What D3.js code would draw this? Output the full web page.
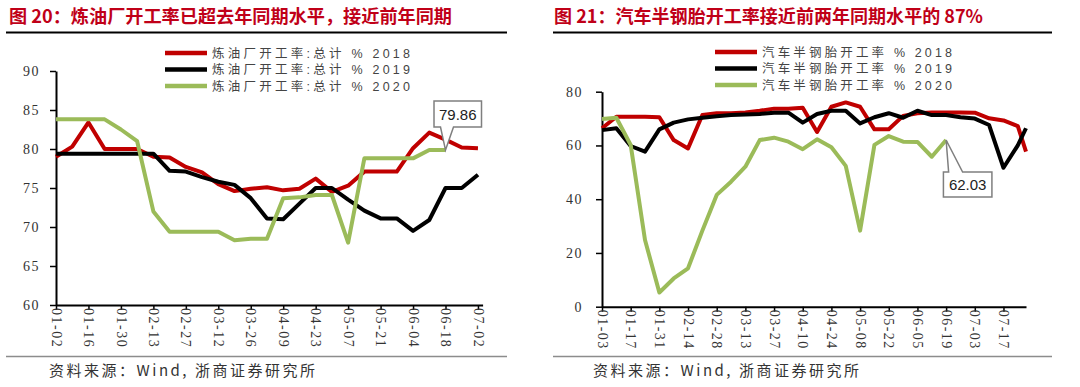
<!DOCTYPE html>
<html>
<head>
<meta charset="utf-8">
<script src="https://cdn.jsdelivr.net/npm/d3@7"></script>
<style>
    body { margin: 0; background: #fff; }
    svg { display: block; }
    .title { font-family: "Noto Sans CJK SC", sans-serif; font-weight: bold; font-size: 18px; fill: #c00018; }
    .source { font-family: "Noto Sans CJK SC", serif; font-size: 15px; fill: #333; }
    .tick text { font-family: "Liberation Serif", "Times New Roman", serif; font-size: 14px; fill: #333; letter-spacing: 1.5px; }
    .legend text { font-family: "Liberation Sans", "Noto Sans CJK SC", sans-serif; font-size: 12.5px; fill: #444; }
    .callout text { font-family: "Liberation Sans", Arial, sans-serif; font-size: 15px; fill: #222; }
</style>
</head>
<body>
<svg id="chart" width="1080" height="387"></svg>
<script>
// ---- left panel: refinery utilisation, weekly ----
let refineryDates = ['01-02', '01-09', '01-16', '01-23', '01-30', '02-06', '02-13', '02-20', '02-27',
    '03-05', '03-12', '03-19', '03-26', '04-02', '04-09', '04-16', '04-23', '04-30', '05-07',
    '05-14', '05-21', '05-28', '06-04', '06-11', '06-18', '06-25', '07-02'];
let refineryTicks = ['01-02', '01-16', '01-30', '02-13', '02-27', '03-12', '03-26', '04-09',
    '04-23', '05-07', '05-21', '06-04', '06-18', '07-02'];
let refinery2018 = [79.0, 80.3, 83.4, 80.0, 80.0, 80.0, 79.0, 78.9, 77.7, 77.0, 75.5, 74.6, 74.9, 75.1,
    74.7, 74.9, 76.2, 74.5, 75.3, 77.1, 77.1, 77.1, 80.1, 82.1, 81.2, 80.2, 80.1];
let refinery2019 = [79.4, 79.4, 79.4, 79.4, 79.4, 79.4, 79.4, 77.2, 77.1, 76.4, 75.8, 75.4, 73.7, 71.1,
    71.0, 73.0, 75.0, 75.0, 73.5, 72.1, 71.1, 71.1, 69.5, 70.9, 75.0, 75.0, 76.7];
let refinery2020 = [83.8, 83.8, 83.8, 83.8, 82.5, 81.0, 72.0, 69.4, 69.4, 69.4, 69.4, 68.3, 68.5, 68.5,
    73.7, 73.8, 74.1, 74.1, 68.0, 78.8, 78.8, 78.8, 78.8, 79.86, 79.86];
let refineryYTicks = [60, 65, 70, 75, 80, 85, 90];

// ---- right panel: semi-steel tyre utilisation, weekly ----
let tireDates = ['01-03', '01-10', '01-17', '01-24', '01-31', '02-07', '02-14', '02-21', '02-28',
    '03-06', '03-13', '03-20', '03-27', '04-03', '04-10', '04-17', '04-24', '05-01', '05-08',
    '05-15', '05-22', '05-29', '06-05', '06-12', '06-19', '06-26', '07-03', '07-10', '07-17',
    '07-24', '07-28'];
let tireTicks = ['01-03', '01-17', '01-31', '02-14', '02-28', '03-13', '03-27', '04-10', '04-24',
    '05-08', '05-22', '06-05', '06-19', '07-03', '07-17'];
let tire2018 = [66.4, 70.7, 70.7, 70.7, 70.5, 62.0, 58.9, 71.3, 72.0, 72.0, 72.3, 72.9, 73.7, 73.7,
    74.0, 65.0, 74.4, 76.0, 74.4, 66.0, 66.0, 71.0, 72.0, 72.3, 72.3, 72.3, 72.2, 70.1, 69.3, 67.2, 57.7];
let tire2019 = [65.7, 66.4, 59.8, 57.7, 66.0, 68.5, 69.7, 70.3, 70.9, 71.3, 71.5, 71.7, 72.2, 72.2,
    68.5, 71.7, 72.9, 72.9, 68.2, 70.5, 72.0, 70.3, 72.9, 71.3, 71.3, 70.5, 70.0, 67.6, 51.7, 60.0, 66.4];
let tire2020 = [69.8, 70.3, 60.2, 24.8, 5.3, 10.5, 14.3, 28.3, 41.6, 46.5, 52.1, 62.0, 62.9, 61.4,
    58.6, 62.3, 59.3, 52.4, 28.3, 60.2, 63.5, 61.4, 61.3, 55.8, 62.03];
let tireYTicks = [0, 20, 40, 60, 80];

let seriesColors = ['#c00000', '#000000', '#9bbb59'];

let parseDay = d3.timeParse('%Y-%m-%d');
function toDate(s) {
    return parseDay('2020-' + s);
}

let svg = d3.select('#chart');

function drawPanel(p) {
    let g = svg.append('g');

    // title + heavy rule under it
    g.append('text')
        .attr('class', 'title')
        .attr('x', p.titleX)
        .attr('y', 23)
        .attr('textLength', p.titleLen)
        .attr('lengthAdjust', 'spacingAndGlyphs')
        .text(p.title);
    g.append('line')
        .attr('x1', p.rule[0]).attr('x2', p.rule[1])
        .attr('y1', 32.5).attr('y2', 32.5)
        .attr('stroke', '#000').attr('stroke-width', 2);

    // footer rule + source
    g.append('line')
        .attr('x1', p.rule[0]).attr('x2', p.rule[1])
        .attr('y1', 356.5).attr('y2', 356.5)
        .attr('stroke', '#8c8c8c').attr('stroke-width', 1.5);
    g.append('text')
        .attr('class', 'source')
        .attr('x', p.sourceX)
        .attr('y', 376)
        .attr('textLength', 266)
        .attr('lengthAdjust', 'spacing')
        .text('资料来源：Wind, 浙商证券研究所');

    let x = d3.scaleTime()
        .domain(p.xDomain.map(toDate))
        .range(p.xRange);
    let y = d3.scaleLinear()
        .domain(p.yDomain)
        .range(p.yRange);

    // y axis
    let yAxis = g.append('g')
        .attr('transform', 'translate(' + p.xRange[0] + ',0)')
        .call(d3.axisLeft(y).tickValues(p.yTicks).tickSize(6).tickSizeOuter(0).tickPadding(p.yPad));
    yAxis.select('.domain').attr('stroke-width', 2);
    yAxis.selectAll('.tick line').attr('stroke-width', 1.5);

    // x axis, labels turned to read downward
    let xAxis = g.append('g')
        .attr('transform', 'translate(0,' + p.yRange[0] + ')')
        .call(d3.axisBottom(x).tickValues(p.xTicks.map(toDate)).tickSize(5).tickSizeOuter(0)
            .tickFormat(d3.timeFormat('%m-%d')));
    xAxis.select('.domain').attr('stroke-width', 2);
    xAxis.selectAll('.tick line').attr('stroke-width', 1.5);
    xAxis.selectAll('.tick text')
        .attr('transform', 'rotate(90)')
        .attr('x', 3)
        .attr('y', 0)
        .attr('dy', '.35em')
        .style('text-anchor', 'start');

    // series, 2018 first so 2020 ends on top
    let line = d3.line()
        .x(function(d) { return x(toDate(d.date)); })
        .y(function(d) { return y(d.value); });

    p.series.forEach(function(s, i) {
        let pts = s.values.map(function(v, k) {
            return { date: p.dates[k], value: v };
        });
        g.append('path')
            .datum(pts)
            .attr('fill', 'none')
            .attr('stroke', seriesColors[i])
            .attr('stroke-width', 4)
            .attr('stroke-linejoin', 'round')
            .attr('d', line);
    });

    // legend
    let legend = g.append('g').attr('class', 'legend');
    p.series.forEach(function(s, i) {
        let ly = p.legend.y[i];
        legend.append('line')
            .attr('x1', p.legend.x).attr('x2', p.legend.x + 42)
            .attr('y1', ly).attr('y2', ly)
            .attr('stroke', seriesColors[i])
            .attr('stroke-width', 4.5);
        legend.append('text')
            .attr('x', p.legend.x + 47)
            .attr('y', ly + 4.5)
            .attr('textLength', p.legend.textLen)
            .attr('lengthAdjust', 'spacing')
            .text(s.name);
    });

    // callout on last 2020 value
    let c = p.callout;
    let cx = x(toDate(c.date)), cy = y(c.value);
    let left = cx + c.dx, right = left + c.w, top = cy + c.dy, bottom = top + c.h;
    let d;
    if (c.dy < 0) {
        d = 'M' + left + ',' + top + 'H' + right + 'V' + bottom +
            'H' + (cx + c.tail[1]) + 'L' + cx + ',' + cy + 'L' + (cx + c.tail[0]) + ',' + bottom +
            'H' + left + 'Z';
    } else {
        d = 'M' + left + ',' + top + 'H' + (cx + c.tail[0]) + 'L' + cx + ',' + cy +
            'L' + (cx + c.tail[1]) + ',' + top + 'H' + right + 'V' + bottom + 'H' + left + 'Z';
    }
    let call = g.append('g').attr('class', 'callout');
    call.append('path')
        .attr('d', d)
        .attr('fill', '#fff')
        .attr('stroke', '#7f7f7f')
        .attr('stroke-width', 1.5);
    call.append('text')
        .attr('x', (left + right) / 2)
        .attr('y', top + c.h / 2 + 5.5)
        .attr('text-anchor', 'middle')
        .text(d3.format('.2f')(c.value));
}

drawPanel({
    title: '图 20：炼油厂开工率已超去年同期水平，接近前年同期',
    titleX: 9, titleLen: 443,
    rule: [6, 507],
    sourceX: 49,
    dates: refineryDates,
    xDomain: ['01-02', '07-04'],
    xRange: [56, 482.6],
    xTicks: refineryTicks,
    yDomain: [60, 90],
    yRange: [305, 71],
    yTicks: refineryYTicks,
    yPad: 10,
    series: [
        { name: '炼油厂开工率:总计 % 2018', values: refinery2018 },
        { name: '炼油厂开工率:总计 % 2019', values: refinery2019 },
        { name: '炼油厂开工率:总计 % 2020', values: refinery2020 }
    ],
    legend: { x: 165, y: [53, 69.5, 86], textLen: 198 },
    callout: { date: '06-18', value: 79.86, dx: -11.5, w: 47.5, dy: -49, h: 26, tail: [-5, 8] }
});

drawPanel({
    title: '图 21：汽车半钢胎开工率接近前两年同期水平的 87%',
    titleX: 554, titleLen: 429,
    rule: [553, 1052],
    sourceX: 593,
    dates: tireDates,
    xDomain: ['01-03', '07-28'],
    xRange: [602, 1026],
    xTicks: tireTicks,
    yDomain: [0, 80],
    yRange: [306.7, 91.7],
    yTicks: tireYTicks,
    yPad: 13,
    series: [
        { name: '汽车半钢胎开工率 % 2018', values: tire2018 },
        { name: '汽车半钢胎开工率 % 2019', values: tire2019 },
        { name: '汽车半钢胎开工率 % 2020', values: tire2020 }
    ],
    legend: { x: 715, y: [52, 68.5, 85], textLen: 190 },
    callout: { date: '06-19', value: 62.03, dx: -2.7, w: 48.5, dy: 32, h: 25, tail: [2.5, 16.5] }
});
</script>
</body>
</html>
